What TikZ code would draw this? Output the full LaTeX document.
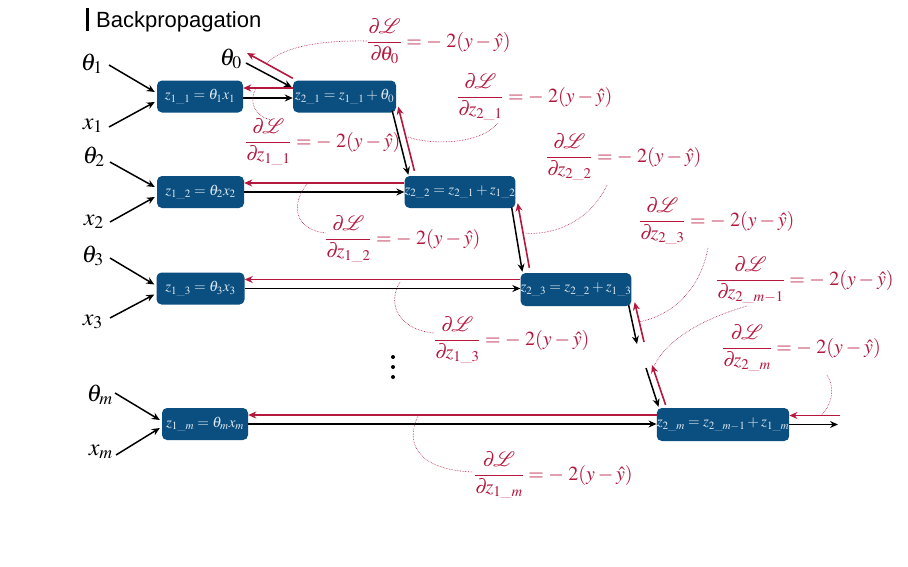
\documentclass[tikz,border=0pt]{standalone}
\usepackage{amsmath}
\usepackage{mathptmx}
\usepackage{mathrsfs}
\usepackage[no-math]{fontspec}
\newfontfamily\titlefont{Liberation Sans}
\usetikzlibrary{arrows.meta}
\definecolor{boxblue}{HTML}{0B4F80}
\definecolor{boxtext}{HTML}{DDE8F0}
\definecolor{gradred}{HTML}{B5173D}
\tikzset{
  box/.style={fill=boxblue, rounded corners=5pt, text=boxtext, inner sep=0pt,
    minimum height=32pt, font=\fontsize{15}{18}\selectfont},
  lab/.style={anchor=base east, inner sep=0pt, font=\fontsize{24}{28}\selectfont},
  glab/.style={anchor=base west, inner sep=0pt, text=gradred, font=\fontsize{20}{24}\selectfont},
  blk/.style={-{Stealth[length=8pt,width=7pt]}, line width=1.5pt, black},
  rd/.style={-{Stealth[length=8pt,width=7pt]}, line width=1.6pt, gradred},
  leader/.style={gradred, line width=0.6pt, densely dotted},
}
\newcommand{\gradeq}[1]{$\displaystyle\frac{\partial\!\mathscr{L}}{\partial\! #1}=-\;2(y-\hat{y})$}
\begin{document}
\begin{tikzpicture}[x=1pt,y=-1pt]
\useasboundingbox[fill=white] (0,0) rectangle (908,566);
% title
\fill (86,8) rectangle (88.5,31);
\node[anchor=base west, inner sep=0pt, font=\titlefont\fontsize{22}{26}\selectfont] (title) at (96,27) {Backpropagation};
% input labels
\node[lab] (t1) at (103,70) {$\theta_1$};
\node[lab] (x1) at (103,129) {$x_1$};
\node[lab] (t2) at (105,163) {$\theta_2$};
\node[lab] (x2) at (104,225) {$x_2$};
\node[lab] (t3) at (104,262) {$\theta_3$};
\node[lab] (x3) at (103,325) {$x_3$};
\node[lab] (tm) at (113,401) {$\theta_m$};
\node[lab] (xm) at (113,455) {$x_m$};
\node[lab] (t0) at (242,65) {$\theta_0$};
% boxes
\node[box, minimum width=86pt] (z11) at (200,96.5) {$z_{1\_1}=\theta_1x_1$};
\node[box, minimum width=103pt] (z21) at (344.5,96.5) {$z_{2\_1}=z_{1\_1}+\theta_0$};
\node[box, minimum width=87pt] (z12) at (200.5,192) {$z_{1\_2}=\theta_2x_2$};
\node[box, minimum width=104pt] (z22) at (460,192) {$z_{2\_2}=z_{2\_1}+z_{1\_2}$};
\node[box, minimum width=88pt] (z13) at (200.5,288.5) {$z_{1\_3}=\theta_3x_3$};
\node[box, minimum width=104pt, minimum height=33pt] (z23) at (576,289.5) {$z_{2\_3}=z_{2\_2}+z_{1\_3}$};
\node[box, minimum width=86pt] (z1m) at (205,424) {$z_{1\_m}=\theta_mx_m$};
\node[box, minimum width=132pt, minimum height=33pt] (z2m) at (723,424.5) {$z_{2\_m}=z_{2\_m-1}+z_{1\_m}$};
% free ends
\coordinate (c3) at (637,344);
\coordinate (c3r) at (644,342);
\coordinate (c4) at (646,368);
\coordinate (c4r) at (652,365);
\coordinate (cout) at (838,424.5);
\coordinate (coutr) at (840,415.5);
% input arrows
\draw[blk] ([shift={(6,-5)}]t1.base east) -- ([shift={(-2,-4.5)}]z11.west);
\draw[blk] ([shift={(6,-2)}]x1.base east) -- ([shift={(-2,5.5)}]z11.west);
\draw[blk] ([shift={(5,-1)}]t2.base east) -- ([shift={(-2,-5)}]z12.west);
\draw[blk] ([shift={(6,-3)}]x2.base east) -- ([shift={(-2,5)}]z12.west);
\draw[blk] ([shift={(6,-4)}]t3.base east) -- ([shift={(-2,-4)}]z13.west);
\draw[blk] ([shift={(7,-7)}]x3.base east) -- ([shift={(-2,6)}]z13.west);
\draw[blk] ([shift={(2,-8)}]tm.base east) -- ([shift={(-2,-4)}]z1m.west);
\draw[blk] ([shift={(3,0)}]xm.base east) -- ([shift={(-2,4)}]z1m.west);
% theta0
\draw[blk] ([shift={(4,-2)}]t0.base east) -- ([shift={(-1,7)}]z21.north west);
\draw[rd] ([shift={(0,-2)}]z21.north west) -- ([shift={(5,-12)}]t0.base east);
% horizontal
\draw[blk] ([shift={(0,1.5)}]z11.east) -- ([shift={(0,1.5)}]z21.west);
\draw[rd] ([shift={(0,-8.5)}]z21.west) -- ([shift={(0,-8.5)}]z11.east);
\draw[blk] (z12.east) -- (z22.west);
\draw[rd] ([shift={(0,-9)}]z22.west) -- ([shift={(0,-9)}]z12.east);
\draw[blk] (z13.east) -- (z13.east -| z23.west);
\draw[rd] ([shift={(0,-9)}]z13.east -| z23.west) -- ([shift={(0,-9)}]z13.east);
\draw[blk] (z1m.east) -- (z1m.east -| z2m.west);
\draw[rd] ([shift={(0,-9)}]z1m.east -| z2m.west) -- ([shift={(0,-9)}]z1m.east);
\draw[blk] (z2m.east) -- (cout);
\draw[rd] (coutr) -- (coutr -| z2m.east);
% vertical chain
\draw[blk] ([shift={(-4,-2)}]z21.south east) -- ([shift={(4,-1)}]z22.north west);
\draw[rd] ([shift={(10,-5)}]z22.north west) -- ([shift={(2,-6)}]z21.south east);
\draw[blk] ([shift={(-4,-1)}]z22.south east) -- ([shift={(2,-1)}]z23.north west);
\draw[rd] ([shift={(9,-5)}]z23.north west) -- ([shift={(2,-5)}]z22.south east);
\draw[blk] ([shift={(-3,-1)}]z23.south east) -- (c3);
\draw[rd] (c3r) -- ([shift={(3,-4)}]z23.south east);
\draw[blk] (c4) -- ([shift={(2,-1)}]z2m.north west);
\draw[rd] ([shift={(9,-3)}]z2m.north west) -- (c4r);
% dots
\fill (393,357) circle (2);
\fill (393,367) circle (2);
\fill (393,377) circle (2);
% gradient labels
\node[glab] (l0) at (367,47) {\gradeq{\theta_0}};
\node[glab] (l21) at (457,102) {\gradeq{z_{2\_1}}};
\node[glab] (l11) at (245,147) {\gradeq{z_{1\_1}}};
\node[glab] (l22) at (546,162) {\gradeq{z_{2\_2}}};
\node[glab] (l12) at (325,244) {\gradeq{z_{1\_2}}};
\node[glab] (l23) at (639,226) {\gradeq{z_{2\_3}}};
\node[glab] (l2m1) at (716,285) {\gradeq{z_{2\_m-1}}};
\node[glab] (l13) at (434,345) {\gradeq{z_{1\_3}}};
\node[glab] (l2m) at (722,353) {\gradeq{z_{2\_m}}};
\node[glab] (l1m) at (474,480) {\gradeq{z_{1\_m}}};
% leaders
\draw[leader] (367,41) .. controls (310,40) and (280,50) .. (267,63);
\draw[leader] (498,123) .. controls (480,145) and (430,145) .. (408,137);
\draw[leader] (256,88) .. controls (248,102) and (255,117) .. (272,120);
\draw[leader] (607,185) .. controls (590,222) and (552,236) .. (524,233);
\draw[leader] (307,184) .. controls (290,205) and (295,230) .. (326,233);
\draw[leader] (708,248) .. controls (700,290) and (672,316) .. (638,322);
\draw[leader] (747,306) .. controls (705,318) and (668,338) .. (654,366);
\draw[leader] (400,282) .. controls (386,305) and (400,330) .. (434,333);
\draw[leader] (827,375) .. controls (836,390) and (831,405) .. (821,416);
\draw[leader] (418,416) .. controls (404,445) and (420,470) .. (473,472);
\end{tikzpicture}
\end{document}
